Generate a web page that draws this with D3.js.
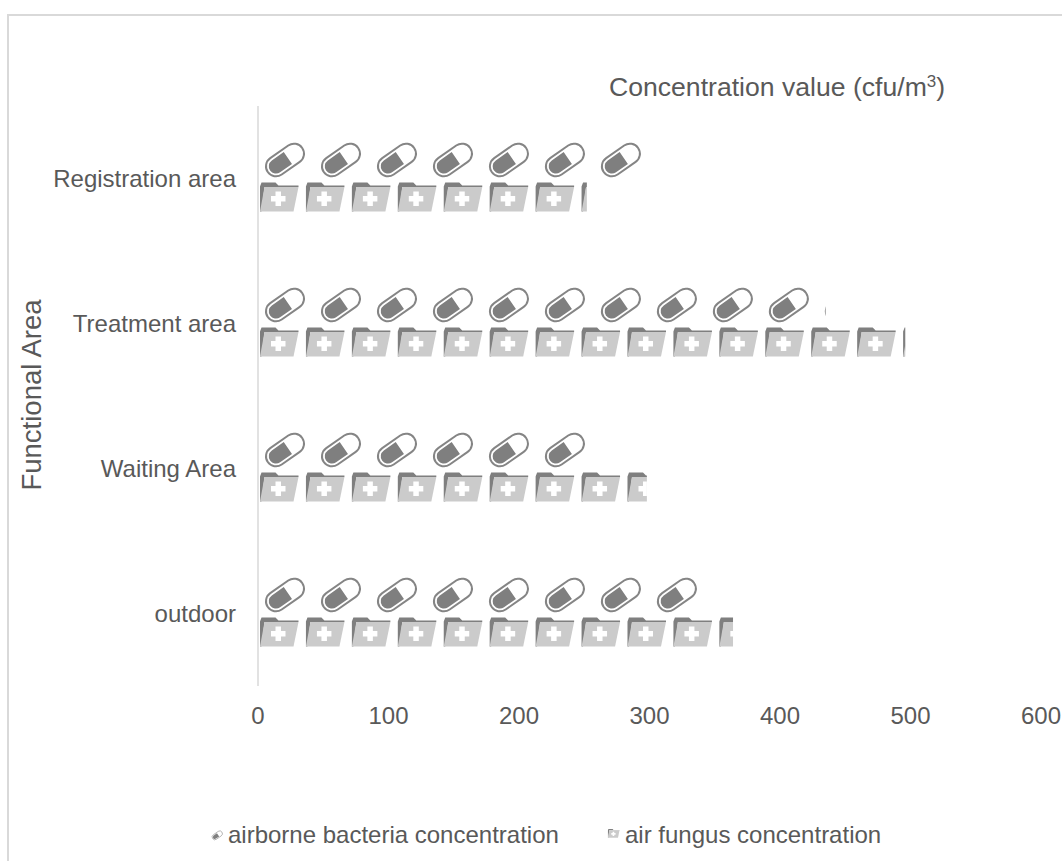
<!DOCTYPE html>
<html>
<head>
<meta charset="utf-8">
<style>
  html, body { margin: 0; padding: 0; background: #fff; }
  svg { display: block; }
  text { font-family: "Liberation Sans", Arial, sans-serif; fill: #595959; }
</style>
<script src="https://cdn.jsdelivr.net/npm/d3@7/dist/d3.min.js"></script>
</head>
<body>
<svg id="chart" width="1062" height="861"></svg>
<script>
// Airborne microbe concentration per functional area (cfu/m³)
const areas = ["Registration area", "Treatment area", "Waiting Area", "outdoor"];
const bacteria = [300, 435, 256, 343];
const fungus = [252, 496, 298, 364];
const xTicks = [0, 100, 200, 300, 400, 500, 600];
const bacteriaName = "airborne bacteria concentration";
const fungusName = "air fungus concentration";
const pillUnit = 42.9;    // value covered by one capsule icon
const folderUnit = 35.2;  // value covered by one folder icon

const svg = d3.select("#chart");
const width = 1062, height = 861;

const x = d3.scaleLinear().domain([0, 600]).range([258, 1041]);
const y = d3.scaleBand().domain(areas).range([106, 686]);

// Chart-area frame, running off the right and bottom of the page
svg.append("path")
  .attr("d", `M8 ${height}V15H${width}`)
  .attr("fill", "none").attr("stroke", "#d9d9d9").attr("stroke-width", 2);

const defs = svg.append("defs");

// Capsule icon drawn in a 56 × 36 unit cell
const pill = defs.append("g").attr("id", "pill-icon");
const pillBody = pill.append("g").attr("transform", "translate(27,17.5) rotate(-35)");
pillBody.append("rect").attr("x", -21).attr("y", -10).attr("width", 42).attr("height", 20).attr("rx", 10)
  .attr("fill", "#fff").attr("stroke", "#858585").attr("stroke-width", 2);
pillBody.append("path").attr("d", "M3.5 -7.2H-11A7.2 7.2 0 0 0 -11 7.2H3.5Z").attr("fill", "#7f7f7f");

// Folder icon with a medical cross, drawn in a 46 × 30 unit cell
const folder = defs.append("g").attr("id", "folder-icon");
folder.append("path")
  .attr("d", "M3 0H17L20 3H40V4.5H6L3 29H1.5V4Z").attr("fill", "#7f7f7f");
folder.append("path")
  .attr("d", "M6 4.5H40L35 29H1.5Z").attr("fill", "#cbcbcb");
folder.append("path")
  .attr("d", "M17 9H22.5V13.5H27V19H22.5V23.5H17V19H12.5V13.5H17Z").attr("fill", "#fff");

const marks = [
  { name: "bacteria", values: bacteria, unit: pillUnit, icon: "#pill-icon", top: 36.5, dx: 0 },
  { name: "fungus", values: fungus, unit: folderUnit, icon: "#folder-icon", top: 76.5, dx: 0.5 }
];

// Each bar is a clipped run of repeated icons, cut off at the bar's value
marks.forEach(m => {
  const bars = svg.append("g").attr("class", m.name).selectAll("g")
    .data(areas.map((a, i) => ({ area: a, value: m.values[i], row: i })))
    .join("g");

  bars.each(function (d) {
    const clipId = `clip-${m.name}-${d.row}`;
    const top = y(d.area) + m.top;
    defs.append("clipPath").attr("id", clipId).append("rect")
      .attr("x", x(0)).attr("y", top - 2)
      .attr("width", x(d.value) - x(0)).attr("height", 40);
    d3.select(this).attr("clip-path", `url(#${clipId})`)
      .selectAll("use")
      .data(d3.range(Math.ceil(d.value / m.unit)))
      .join("use")
      .attr("href", m.icon)
      .attr("x", i => x(i * m.unit) + m.dx)
      .attr("y", top);
  });
});

// Vertical category axis line
svg.append("line")
  .attr("x1", x(0)).attr("x2", x(0)).attr("y1", 106).attr("y2", 686)
  .attr("stroke", "#d9d9d9").attr("stroke-width", 1.5);

// Category labels
svg.append("g").selectAll("text").data(areas).join("text")
  .attr("x", 236)
  .attr("y", d => y(d) + y.bandwidth() / 2)
  .attr("dy", "0.35em")
  .attr("text-anchor", "end")
  .attr("font-size", 24)
  .text(d => d);

// Value tick labels
svg.append("g").selectAll("text").data(xTicks).join("text")
  .attr("x", d => x(d))
  .attr("y", 724)
  .attr("text-anchor", "middle")
  .attr("font-size", 24)
  .text(d => d);

// Axis titles
const valueTitle = svg.append("text")
  .attr("x", 609).attr("y", 96).attr("font-size", 26.6);
valueTitle.append("tspan").text("Concentration value (cfu/m");
valueTitle.append("tspan").attr("dy", -9).attr("font-size", 17).text("3");
valueTitle.append("tspan").attr("dy", 9).text(")");

svg.append("text")
  .attr("transform", "translate(41,395) rotate(-90)")
  .attr("text-anchor", "middle")
  .attr("font-size", 27.5)
  .text("Functional Area");

// Legend
const legend = svg.append("g");
legend.append("use").attr("href", "#pill-icon")
  .attr("transform", "translate(210,830.6) scale(0.27)");
legend.append("text").attr("x", 228).attr("y", 843).attr("font-size", 24).text(bacteriaName);
legend.append("use").attr("href", "#folder-icon")
  .attr("transform", "translate(607.5,829) scale(0.3)");
legend.append("text").attr("x", 625).attr("y", 843).attr("font-size", 24).text(fungusName);
</script>
</body>
</html>
